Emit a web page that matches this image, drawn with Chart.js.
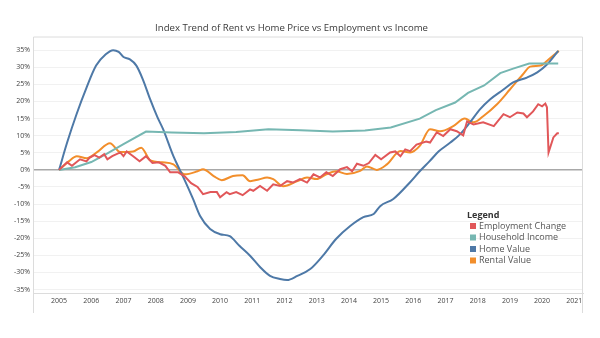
<!DOCTYPE html>
<html>
<head>
<meta charset="utf-8">
<script src="https://cdn.jsdelivr.net/npm/chart.js@4/dist/chart.umd.min.js"></script>
<style>
  html, body { margin: 0; padding: 0; background: #ffffff; }
  #wrap { width: 600px; height: 338px; }
</style>
</head>
<body>
<div id="wrap"><canvas id="chart" width="600" height="338"></canvas></div>
<script>
// Index change since 2005 (%), sampled as decimal years
const yearTicks = [2005, 2006, 2007, 2008, 2009, 2010, 2011, 2012, 2013, 2014, 2015, 2016, 2017, 2018, 2019, 2020, 2021];
const percentTicks = [-35, -30, -25, -20, -15, -10, -5, 0, 5, 10, 15, 20, 25, 30, 35];

const employmentYears = [2005.0, 2005.25, 2005.4, 2005.65, 2005.85, 2005.95, 2006.1, 2006.25, 2006.4, 2006.5, 2006.65, 2006.9, 2007.0, 2007.1, 2007.3, 2007.5, 2007.7, 2007.9, 2008.1, 2008.3, 2008.45, 2008.7, 2008.9, 2009.1, 2009.3, 2009.47, 2009.7, 2009.9, 2010.0, 2010.2, 2010.3, 2010.5, 2010.7, 2010.93, 2011.03, 2011.24, 2011.46, 2011.65, 2011.86, 2012.08, 2012.26, 2012.48, 2012.7, 2012.9, 2013.1, 2013.3, 2013.5, 2013.73, 2013.94, 2014.1, 2014.25, 2014.45, 2014.62, 2014.82, 2015.0, 2015.28, 2015.44, 2015.6, 2015.75, 2015.9, 2016.1, 2016.4, 2016.52, 2016.73, 2016.93, 2017.15, 2017.35, 2017.55, 2017.67, 2017.87, 2018.17, 2018.5, 2018.8, 2019.0, 2019.23, 2019.42, 2019.53, 2019.72, 2019.88, 2020.0, 2020.1, 2020.15, 2020.2, 2020.35, 2020.47, 2020.52];
const employmentValues = [0, 2.2, 1.2, 3.1, 2.5, 3.6, 4.3, 3.6, 4.6, 3.1, 4.0, 5.1, 4.0, 5.4, 4.0, 2.5, 4.0, 2.0, 2.2, 1.2, -0.7, -0.7, -1.9, -3.9, -5.0, -7.1, -6.5, -6.5, -8.0, -6.5, -7.1, -6.5, -7.4, -5.7, -6.1, -4.7, -6.1, -4.2, -4.7, -3.3, -3.7, -2.7, -3.7, -1.3, -2.2, -0.7, -1.8, 0.2, 0.8, -0.4, 1.8, 1.2, 2.0, 4.4, 3.1, 5.1, 5.4, 4.0, 6.0, 5.5, 7.4, 8.3, 8.0, 11.0, 9.9, 11.9, 11.3, 10.1, 14.2, 13.3, 13.9, 12.8, 16.3, 15.4, 16.8, 16.5, 15.4, 17.1, 19.2, 18.6, 19.4, 18.3, 5.1, 9.5, 10.7, 10.7];

const incomeYears = [2005.0, 2005.5, 2006.0, 2006.5, 2007.0, 2007.7, 2008.5, 2009.5, 2010.5, 2011.5, 2012.5, 2013.5, 2014.5, 2015.3, 2016.2, 2016.7, 2017.3, 2017.7, 2018.2, 2018.7, 2019.1, 2019.6, 2020.5];
const incomeValues = [0, 0.8, 2.3, 4.8, 7.5, 11.2, 10.9, 10.7, 11.1, 11.9, 11.6, 11.2, 11.5, 12.4, 15.0, 17.5, 19.7, 22.5, 24.7, 28.3, 29.6, 31.1, 31.1];

const homeYears = [2005.0, 2005.25, 2005.55, 2005.85, 2006.15, 2006.45, 2006.68, 2006.85, 2007.0, 2007.2, 2007.4, 2007.6, 2007.83, 2008.05, 2008.23, 2008.55, 2008.75, 2008.9, 2009.16, 2009.38, 2009.69, 2010.0, 2010.3, 2010.6, 2010.93, 2011.24, 2011.55, 2011.86, 2012.08, 2012.4, 2012.8, 2013.2, 2013.6, 2014.04, 2014.45, 2014.77, 2014.97, 2015.38, 2015.9, 2016.2, 2016.5, 2016.8, 2017.15, 2017.45, 2017.76, 2018.07, 2018.38, 2018.8, 2019.1, 2019.53, 2019.85, 2020.15, 2020.5];
const homeValues = [0, 8.0, 16.5, 24.0, 30.5, 33.8, 35.0, 34.5, 33.0, 32.3, 30.5, 26.5, 20.6, 15.5, 11.9, 4.0, 0, -3.0, -8.5, -13.5, -17.3, -18.8, -19.4, -22.2, -25.1, -28.4, -31.0, -31.9, -32.2, -31.0, -29.0, -25.0, -20.2, -16.4, -13.8, -12.9, -10.6, -8.5, -3.6, -0.4, 2.5, 5.5, 8.0, 10.4, 13.9, 17.7, 20.6, 23.5, 25.6, 27.0, 28.5, 30.8, 34.8];

const rentalYears = [2005.0, 2005.3, 2005.55, 2005.86, 2006.17, 2006.58, 2006.9, 2007.3, 2007.55, 2007.83, 2008.2, 2008.55, 2008.9, 2009.3, 2009.47, 2009.8, 2010.05, 2010.4, 2010.7, 2010.93, 2011.2, 2011.46, 2011.65, 2011.96, 2012.4, 2012.7, 2013.0, 2013.3, 2013.6, 2013.94, 2014.35, 2014.56, 2014.87, 2015.18, 2015.6, 2015.9, 2016.2, 2016.52, 2016.83, 2017.24, 2017.6, 2017.87, 2018.17, 2018.6, 2019.0, 2019.4, 2019.63, 2019.95, 2020.2, 2020.52];
const rentalValues = [0, 2.5, 4.0, 3.4, 5.1, 7.8, 5.2, 5.4, 6.5, 2.8, 2.2, 1.6, -1.3, -0.4, 0.2, -1.8, -3.0, -1.8, -1.6, -3.3, -2.8, -2.2, -2.7, -4.8, -3.3, -2.2, -2.7, -1.3, -0.4, -1.2, -0.3, 1.0, 0, 1.6, 5.5, 5.1, 7.0, 11.9, 11.3, 12.8, 15.0, 13.9, 15.7, 19.2, 23.5, 27.9, 30.2, 30.5, 32.3, 34.8];

const seriesNames = ['Employment Change', 'Household Income', 'Home Value', 'Rental Value'];
const seriesColors = ['#e15759', '#76b7b2', '#4e79a7', '#f28e2b'];

const points = (xs, ys) => xs.map((x, i) => ({ x: x, y: ys[i] }));

const FONT = "'Open Sans', 'DejaVu Sans', sans-serif";

// Frame around the pane, extended down to enclose the year labels
const framePlugin = {
  id: 'frame',
  beforeDatasetsDraw(chart) {
    const { ctx, chartArea: a } = chart;
    ctx.save();
    ctx.strokeStyle = '#dcdcdc';
    ctx.lineWidth = 1;
    ctx.beginPath();
    ctx.moveTo(a.left + 0.5, a.bottom + 20);
    ctx.lineTo(a.left + 0.5, a.top + 0.5);
    ctx.lineTo(a.right - 0.5, a.top + 0.5);
    ctx.lineTo(a.right - 0.5, a.bottom + 20);
    ctx.stroke();
    ctx.restore();
  }
};

// Legend box drawn inside the plot, lower right
const legendPlugin = {
  id: 'boxLegend',
  afterDraw(chart) {
    const { ctx } = chart;
    const x0 = 467, y0 = 215, step = 11.5;
    ctx.save();
    ctx.textBaseline = 'middle';
    ctx.textAlign = 'left';
    ctx.fillStyle = '#333333';
    ctx.font = "bold 9px " + FONT;
    ctx.fillText('Legend', x0, y0);
    ctx.font = "9px " + FONT;
    chart.data.datasets.forEach((ds, i) => {
      const y = y0 + 11 + i * step;
      ctx.fillStyle = ds.borderColor;
      ctx.fillRect(x0 + 3, y - 3, 6, 6);
      ctx.fillStyle = '#555555';
      ctx.fillText(ds.label, x0 + 12, y);
    });
    ctx.restore();
  }
};

const valueSets = [
  [employmentYears, employmentValues],
  [incomeYears, incomeValues],
  [homeYears, homeValues],
  [rentalYears, rentalValues]
];

const datasets = valueSets.map(([xs, ys], i) => ({
  label: seriesNames[i],
  data: points(xs, ys),
  borderColor: seriesColors[i],
  backgroundColor: seriesColors[i],
  borderWidth: 2,
  pointRadius: 0,
  fill: false,
  tension: (i === 2 || i === 3) ? 0.4 : 0,
  cubicInterpolationMode: (i === 2 || i === 3) ? 'monotone' : 'default'
}));

new Chart(document.getElementById('chart'), {
  type: 'line',
  data: { datasets: datasets },
  plugins: [framePlugin, legendPlugin],
  options: {
    responsive: false,
    devicePixelRatio: 1,
    animation: false,
    layout: { padding: { left: 0, right: 17, top: 0, bottom: 25 } },
    plugins: {
      legend: { display: false },
      tooltip: { enabled: false },
      title: {
        display: true,
        text: 'Index Trend of Rent vs Home Price vs Employment vs Income',
        color: '#3a3a3a',
        font: { family: FONT, size: 9.6, weight: 'normal' },
        padding: { top: 23, bottom: 2 }
      }
    },
    scales: {
      x: {
        type: 'linear',
        min: 2004.19,
        max: 2021.27,
        afterFit(scale) { scale.height = 20; },
        afterBuildTicks(scale) { scale.ticks = yearTicks.map(v => ({ value: v })); },
        grid: { display: false, drawTicks: false },
        border: { display: true, color: '#dcdcdc', width: 1 },
        ticks: {
          padding: 4,
          autoSkip: false,
          maxRotation: 0,
          color: '#444444',
          font: { family: FONT, size: 7 },
          callback: v => String(v)
        }
      },
      y: {
        type: 'linear',
        min: -36,
        max: 39,
        afterFit(scale) { scale.width = 33; },
        afterBuildTicks(scale) { scale.ticks = percentTicks.map(v => ({ value: v })); },
        grid: {
          drawTicks: false,
          color: ctx => (ctx.tick && ctx.tick.value === 0) ? '#a8a8a8' : '#f1f1f1',
          lineWidth: ctx => (ctx.tick && ctx.tick.value === 0) ? 1.4 : 1
        },
        border: { display: false },
        ticks: {
          padding: 3,
          color: '#444444',
          font: { family: FONT, size: 7 },
          callback: v => v + '%'
        }
      }
    }
  }
});
</script>
</body>
</html>
